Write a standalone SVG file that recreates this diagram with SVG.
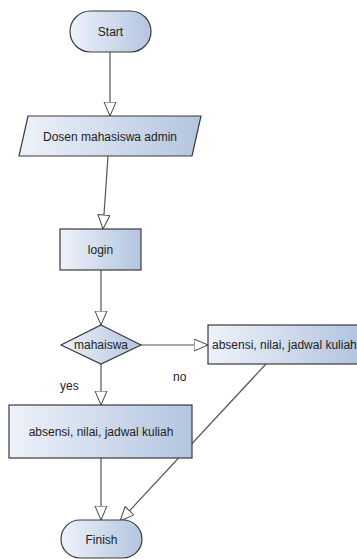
<svg xmlns="http://www.w3.org/2000/svg" width="357" height="559" viewBox="0 0 357 559">
<defs>
<linearGradient id="g" x1="0" y1="0" x2="1" y2="0">
<stop offset="0" stop-color="#eef2fa"/>
<stop offset="1" stop-color="#b3c5df"/>
</linearGradient>
<marker id="arr" markerUnits="userSpaceOnUse" markerWidth="16" markerHeight="14" refX="14.5" refY="6.5" orient="auto" viewBox="0 0 16 14">
<path d="M0.5,0.5 L14.5,6.5 L0.5,12.5 Z" fill="#fff" stroke="#444" stroke-width="1"/>
</marker>
<style>
.s{fill:url(#g);stroke:#3a3a3a;stroke-width:1.2}
.t{font-family:"Liberation Sans",Arial,sans-serif;font-size:12px;fill:#222;text-anchor:middle}
.l{font-family:"Liberation Sans",Arial,sans-serif;font-size:12px;fill:#222}
.c{stroke:#555;stroke-width:1.2;fill:none;marker-end:url(#arr)}
</style>
</defs>
<rect width="357" height="559" fill="#fff"/>
<g id="connectors">
<line class="c" x1="110" y1="52" x2="110" y2="116"/>
<line class="c" x1="108" y1="156" x2="103" y2="229"/>
<line class="c" x1="101" y1="270" x2="101" y2="325"/>
<line class="c" x1="141" y1="345" x2="208" y2="345"/>
<line class="c" x1="101" y1="364" x2="101" y2="405"/>
<line class="c" x1="101" y1="458" x2="101" y2="520"/>
<line class="c" x1="266" y1="364" x2="120" y2="521"/>
</g>
<g id="start">
<rect class="s" x="70" y="11" width="81" height="41" rx="20.5"/>
<text class="t" x="110.5" y="36">Start</text>
</g>
<g id="input">
<polygon class="s" points="28,116 201,116 192,156 19,156"/>
<text class="t" x="110" y="141">Dosen mahasiswa admin</text>
</g>
<g id="login">
<rect class="s" x="60" y="229" width="81" height="41"/>
<text class="t" x="100.5" y="254">login</text>
</g>
<g id="decision">
<polygon class="s" points="101,325 141,345 101,364 61,345"/>
<text class="t" x="101" y="349">mahaiswa</text>
</g>
<g id="no-process">
<rect class="s" x="208" y="325" width="150" height="39"/>
<text class="l" x="212" y="349">absensi, nilai, jadwal kuliah</text>
</g>
<g id="yes-process">
<rect class="s" x="9" y="405" width="183" height="53"/>
<text class="t" x="101" y="436">absensi, nilai, jadwal kuliah</text>
</g>
<g id="finish">
<rect class="s" x="61" y="520" width="81" height="38" rx="19"/>
<text class="t" x="101.5" y="544">Finish</text>
</g>
<g id="labels">
<text class="l" x="60" y="390">yes</text>
<text class="l" x="173" y="381">no</text>
</g>
</svg>
